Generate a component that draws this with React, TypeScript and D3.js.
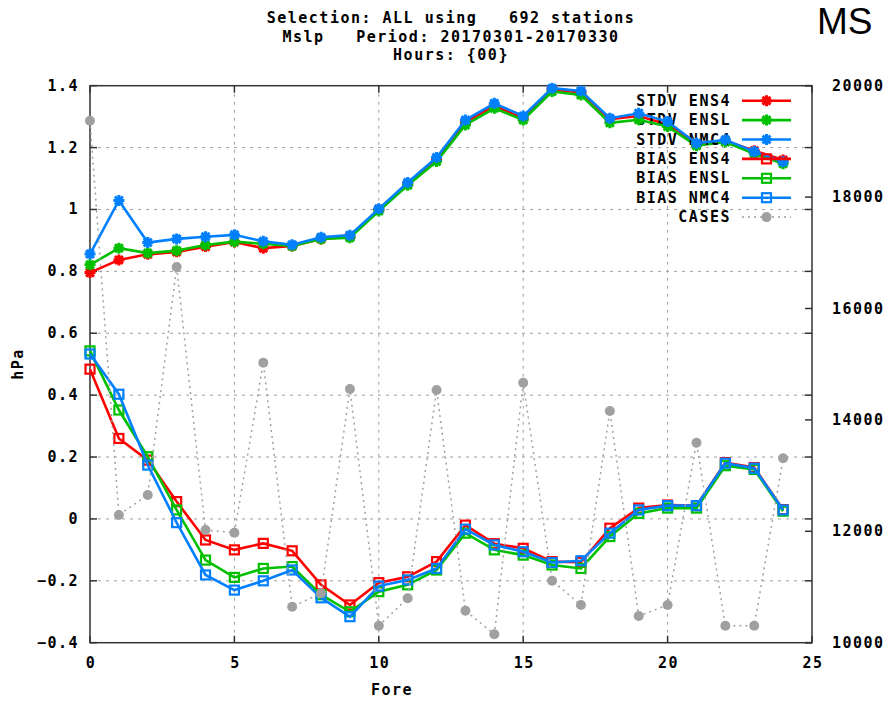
import React from "react";
import * as d3 from "d3";

// Forecast steps on the x axis
const FORE = [0, 1, 2, 3, 4, 5, 6, 7, 8, 9, 10, 11, 12, 13, 14, 15, 16, 17, 18, 19, 20, 21, 22, 23, 24];

// Standard deviation (hPa)
const STDV_ENS4 = [0.796, 0.837, 0.855, 0.863, 0.88, 0.895, 0.875, 0.882, 0.905, 0.912, 1.0, 1.082, 1.162, 1.282, 1.335, 1.296, 1.388, 1.378, 1.292, 1.302, 1.275, 1.212, 1.222, 1.19, 1.16];
const STDV_ENSL = [0.821, 0.875, 0.859, 0.867, 0.885, 0.896, 0.889, 0.882, 0.905, 0.909, 0.995, 1.078, 1.155, 1.273, 1.327, 1.289, 1.381, 1.37, 1.28, 1.29, 1.268, 1.206, 1.218, 1.18, 1.148];
const STDV_NMC4 = [0.856, 1.029, 0.893, 0.905, 0.912, 0.918, 0.897, 0.886, 0.91, 0.917, 1.002, 1.087, 1.168, 1.289, 1.343, 1.302, 1.392, 1.383, 1.295, 1.311, 1.284, 1.214, 1.225, 1.187, 1.154];

// Bias (hPa)
const BIAS_ENS4 = [0.484, 0.26, 0.19, 0.056, -0.068, -0.1, -0.079, -0.103, -0.213, -0.278, -0.206, -0.187, -0.138, -0.02, -0.08, -0.095, -0.138, -0.14, -0.03, 0.035, 0.045, 0.043, 0.182, 0.166, 0.03];
const BIAS_ENSL = [0.543, 0.352, 0.201, 0.029, -0.133, -0.189, -0.16, -0.154, -0.245, -0.3, -0.235, -0.213, -0.165, -0.046, -0.1, -0.117, -0.149, -0.16, -0.057, 0.018, 0.035, 0.035, 0.172, 0.16, 0.025];
const BIAS_NMC4 = [0.533, 0.403, 0.174, -0.012, -0.181, -0.23, -0.2, -0.165, -0.255, -0.316, -0.217, -0.197, -0.16, -0.033, -0.084, -0.106, -0.141, -0.135, -0.046, 0.029, 0.043, 0.043, 0.18, 0.164, 0.029];

// Number of cases (right axis)
const CASES = [19370, 12293, 12652, 16745, 12023, 11975, 15027, 10646, 10887, 14555, 10305, 10797, 14537, 10575, 10151, 14668, 11113, 10677, 14160, 10479, 10677, 13591, 10305, 10305, 13311];

const X_TICKS = [0, 5, 10, 15, 20, 25];
const Y_TICKS = [-0.4, -0.2, 0, 0.2, 0.4, 0.6, 0.8, 1, 1.2, 1.4];
const Y2_TICKS = [10000, 12000, 14000, 16000, 18000, 20000];

const TITLE = [
  "Selection: ALL using   692 stations",
  "Mslp   Period: 20170301-20170330",
  "Hours: {00}",
];

const RED = "#ff0000";
const GREEN = "#00c000";
const BLUE = "#0080ff";
const GREY = "#a0a0a0";

const FONT = "'DejaVu Sans Mono', 'Liberation Mono', monospace";

type Series = {
  name: string;
  values: number[];
  color: string;
  marker: "star" | "square" | "dot";
  axis: "y" | "y2";
};

const SERIES: Series[] = [
  { name: "STDV ENS4", values: STDV_ENS4, color: RED, marker: "star", axis: "y" },
  { name: "STDV ENSL", values: STDV_ENSL, color: GREEN, marker: "star", axis: "y" },
  { name: "STDV NMC4", values: STDV_NMC4, color: BLUE, marker: "star", axis: "y" },
  { name: "BIAS ENS4", values: BIAS_ENS4, color: RED, marker: "square", axis: "y" },
  { name: "BIAS ENSL", values: BIAS_ENSL, color: GREEN, marker: "square", axis: "y" },
  { name: "BIAS NMC4", values: BIAS_NMC4, color: BLUE, marker: "square", axis: "y" },
  { name: "CASES", values: CASES, color: GREY, marker: "dot", axis: "y2" },
];

const W = 886;
const H = 701;
const L = 90;
const R = 812;
const T = 85.7;
const B = 642.7;

const x = d3.scaleLinear().domain([0, 25]).range([L, R]);
const y = d3.scaleLinear().domain([-0.4, 1.4]).range([B, T]);
const y2 = d3.scaleLinear().domain([10000, 20000]).range([B, T]);

const starPath = (s: number) => {
  const d = s * 0.72;
  return `M${-s},0H${s}M0,${-s}V${s}M${-d},${-d}L${d},${d}M${-d},${d}L${d},${-d}`;
};

function Marker({ kind, cx, cy, color }: { kind: Series["marker"]; cx: number; cy: number; color: string }) {
  if (kind === "star") {
    return (
      <path d={starPath(5.5)} transform={`translate(${cx},${cy})`} stroke={color} strokeWidth={3} fill="none" />
    );
  }
  if (kind === "square") {
    return <rect x={cx - 4.5} y={cy - 4.5} width={9} height={9} stroke={color} strokeWidth={2.2} fill="none" />;
  }
  return <circle cx={cx} cy={cy} r={5} fill={color} />;
}

export default function App() {
  const textStyle: React.CSSProperties = {
    fontFamily: FONT,
    fontWeight: "bold",
    fontSize: 15,
    letterSpacing: "1.5px",
  };
  const legendX0 = 742;
  const legendX1 = 791;
  const legendTextX = 731;
  const legendY0 = 100.7;
  const legendStep = 19.4;

  return (
    <svg width={W} height={H} style={{ display: "block", position: "absolute", left: 0, top: 0 }}>
      <rect x={0} y={0} width={W} height={H} fill="#ffffff" />

      {/* Title */}
      <g style={textStyle} fill="#000">
        {TITLE.map((t, i) => (
          <text key={i} x={451} y={22.7 + i * 18.8} textAnchor="middle" style={{ whiteSpace: "pre" }}>
            {t}
          </text>
        ))}
      </g>

      <text x={817} y={34} fontFamily="'Liberation Sans', Arial, sans-serif" fontSize={37} fill="#000">
        MS
      </text>

      {/* Grid */}
      <g stroke={GREY} strokeWidth={1} strokeDasharray="3,5">
        {X_TICKS.filter((v) => v > 0 && v < 25).map((v) => (
          <line key={`gx${v}`} x1={x(v)} x2={x(v)} y1={T} y2={B} />
        ))}
        {Y_TICKS.filter((v) => v > -0.4 && v < 1.4).map((v) => (
          <line key={`gy${v}`} x1={L} x2={R} y1={y(v)} y2={y(v)} />
        ))}
      </g>

      {/* Frame and ticks */}
      <g stroke="#333" strokeWidth={1.5}>
        <rect x={L} y={T} width={R - L} height={B - T} fill="none" />
        {X_TICKS.map((v) => (
          <g key={`tx${v}`}>
            <line x1={x(v)} x2={x(v)} y1={B} y2={B - 7} />
            <line x1={x(v)} x2={x(v)} y1={T} y2={T + 7} />
          </g>
        ))}
        {Y_TICKS.map((v) => (
          <g key={`ty${v}`}>
            <line x1={L} x2={L + 7} y1={y(v)} y2={y(v)} />
            <line x1={R} x2={R - 7} y1={y(v)} y2={y(v)} />
          </g>
        ))}
        {Y2_TICKS.map((v) => (
          <line key={`ty2${v}`} x1={R} x2={R - 7} y1={y2(v)} y2={y2(v)} />
        ))}
      </g>

      {/* Tick labels */}
      <g style={textStyle} fill="#000">
        {Y_TICKS.map((v) => (
          <text key={`ly${v}`} x={79} y={y(v)} textAnchor="end" dominantBaseline="central">
            {d3.format("")(+v.toFixed(1))}
          </text>
        ))}
        {Y2_TICKS.map((v) => (
          <text key={`ly2${v}`} x={832} y={y2(v)} dominantBaseline="central">
            {v}
          </text>
        ))}
        {X_TICKS.map((v) => (
          <text key={`lx${v}`} x={x(v) + 1} y={663} textAnchor="middle" dominantBaseline="central">
            {v}
          </text>
        ))}
        <text x={392} y={690} textAnchor="middle" dominantBaseline="central">
          Fore
        </text>
        <text
          x={0}
          y={0}
          transform={`translate(18,364) rotate(-90)`}
          textAnchor="middle"
          dominantBaseline="central"
        >
          hPa
        </text>
      </g>

      {/* Series: key entry followed by its data */}
      {SERIES.map((s, i) => {
        const ys = s.axis === "y" ? y : y2;
        const line = d3
          .line<number>()
          .x((_, j) => x(FORE[j]))
          .y((d) => ys(d));
        const ly = legendY0 + i * legendStep;
        const dashed = s.marker === "dot";
        const lw = dashed ? 1.5 : 2.6;
        const dash = dashed ? "2,4" : undefined;
        return (
          <g key={s.name}>
            <text
              x={legendTextX}
              y={ly}
              textAnchor="end"
              dominantBaseline="central"
              style={{ ...textStyle, whiteSpace: "pre" }}
              fill="#000"
            >
              {s.name}
            </text>
            <line x1={legendX0} x2={legendX1} y1={ly} y2={ly} stroke={s.color} strokeWidth={lw} strokeDasharray={dash} />
            <Marker kind={s.marker} cx={(legendX0 + legendX1) / 2} cy={ly} color={s.color} />
            <path d={line(s.values) || ""} fill="none" stroke={s.color} strokeWidth={lw} strokeDasharray={dash} />
            {s.values.map((v, j) => (
              <Marker key={j} kind={s.marker} cx={x(FORE[j])} cy={ys(v)} color={s.color} />
            ))}
          </g>
        );
      })}
    </svg>
  );
}
